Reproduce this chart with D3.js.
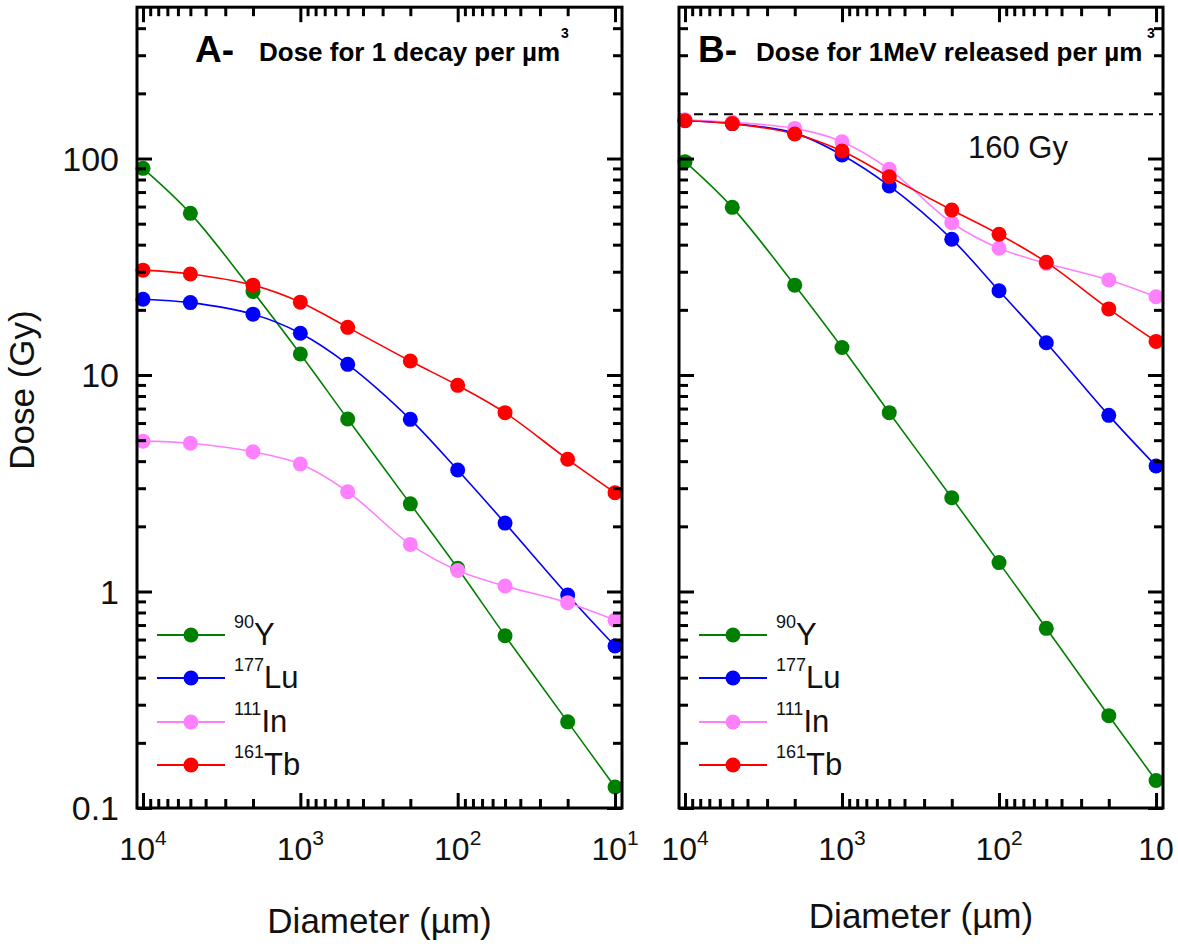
<!DOCTYPE html>
<html>
<head>
<meta charset="utf-8">
<script src="https://cdn.jsdelivr.net/npm/d3@7"></script>
<style>
  html, body { margin: 0; padding: 0; background: #fff; }
  svg { display: block; font-family: "Liberation Sans", Arial, sans-serif; }
</style>
</head>
<body>
<svg id="chart" width="1178" height="948"></svg>
<script>
// ---------------- DATA ----------------
const diameters = [10000, 5000, 2000, 1000, 500, 200, 100, 50, 20, 10];

const seriesNames = ["90Y", "177Lu", "111In", "161Tb"];
const massNumbers = ["90", "177", "111", "161"];
const elements = ["Y", "Lu", "In", "Tb"];
const seriesColors = ["#008000", "#0000ff", "#ff80ff", "#ff0000"];

// Panel A: dose for 1 decay per µm³ (Gy)
const doseA_Y90   = [90.1, 55.8, 24.3, 12.5, 6.26, 2.54, 1.28, 0.625, 0.25, 0.125];
const doseA_Lu177 = [22.4, 21.6, 19.1, 15.6, 11.2, 6.24, 3.64, 2.07, 0.964, 0.56];
const doseA_In111 = [4.95, 4.84, 4.42, 3.88, 2.89, 1.65, 1.25, 1.06, 0.888, 0.738];
const doseA_Tb161 = [30.5, 29.3, 26.0, 21.7, 16.6, 11.6, 8.96, 6.7, 4.08, 2.86];

// Panel B: dose for 1 MeV released per µm³ (Gy)
const doseB_Y90   = [96.7, 59.5, 26.0, 13.4, 6.7, 2.71, 1.36, 0.676, 0.267, 0.134];
const doseB_Lu177 = [150, 145, 131, 103.8, 74.7, 42.4, 24.5, 14.1, 6.51, 3.8];
const doseB_In111 = [151, 147, 137.8, 119.6, 89.1, 50.5, 38.5, 32.8, 27.5, 23.0];
const doseB_Tb161 = [149.5, 145, 129.7, 108.3, 82.4, 57.8, 44.7, 33.2, 20.2, 14.3];

const referenceDose = 160;   // dashed line in panel B
const referenceLabel = "160 Gy";

const yMajorTicks = [0.1, 1, 10, 100];
const yTickLabels = ["0.1", "1", "10", "100"];
const xMajorTicks = [10000, 1000, 100, 10];
const xTickBaseA = ["10", "10", "10", "10"];
const xTickExpA  = ["4", "3", "2", "1"];
const xTickBaseB = ["10", "10", "10", "10"];
const xTickExpB  = ["4", "3", "2", ""];

const yDomain = [0.1, 500];
const xDomain = [10918, 9.03];

// ---------------- LAYOUT ----------------
const svg = d3.select("#chart");
const plotTop = 7.2, plotBottom = 808;
const y = d3.scaleLog().domain(yDomain).range([plotBottom, plotTop]);

function minorTicks(domainMin, domainMax) {
  const out = [];
  for (let d = 0.01; d <= 1e5; d *= 10) {
    for (let k = 2; k <= 9; k++) {
      const v = +(k * d).toPrecision(6);
      if (v > domainMin && v < domainMax) out.push(v);
    }
  }
  return out;
}
const yMinor = minorTicks(yDomain[0], yDomain[1]);
const xMinor = minorTicks(xDomain[1], xDomain[0]);

const panels = [
  {
    left: 137, right: 622,
    data: [doseA_Y90, doseA_Lu177, doseA_In111, doseA_Tb161],
    letter: "A-", letterX: 195, subtitle: "Dose for 1 decay per µm", subX: 259, supX: 561,
    xBase: xTickBaseA, xExp: xTickExpA, yLabels: true, titleY: 933, refLine: false
  },
  {
    left: 679, right: 1163,
    data: [doseB_Y90, doseB_Lu177, doseB_In111, doseB_Tb161],
    letter: "B-", letterX: 698, subtitle: "Dose for 1MeV released per µm", subX: 756, supX: 1147,
    xBase: xTickBaseB, xExp: xTickExpB, yLabels: false, titleY: 928, refLine: true
  }
];

const MAJOR = 15, MINOR = 9;

panels.forEach(p => {
  const x = d3.scaleLog().domain(xDomain).range([p.left, p.right]);
  const g = svg.append("g");

  // reference dashed line
  if (p.refLine) {
    g.append("line")
      .attr("x1", p.left).attr("x2", p.right)
      .attr("y1", y(referenceDose)).attr("y2", y(referenceDose))
      .attr("stroke", "#000").attr("stroke-width", 2)
      .attr("stroke-dasharray", "9,6");
    g.append("text")
      .attr("x", 968).attr("y", 158)
      .attr("font-size", 31).attr("fill", "#111")
      .text(referenceLabel);
  }

  // series
  const line = d3.line()
    .x((d, i) => x(diameters[i]))
    .y(d => y(d))
    .curve(d3.curveCatmullRom.alpha(0.5));

  p.data.forEach((vals, si) => {
    const sg = g.append("g");
    sg.append("path")
      .datum(vals)
      .attr("d", line)
      .attr("fill", "none")
      .attr("stroke", seriesColors[si])
      .attr("stroke-width", 1.6);
    sg.selectAll("circle")
      .data(vals)
      .join("circle")
      .attr("cx", (d, i) => x(diameters[i]))
      .attr("cy", d => y(d))
      .attr("r", 7.5)
      .attr("fill", seriesColors[si]);
  });

  // axes ticks (inward) on all four sides
  const axG = g.append("g");
  const mk = (axisFn, scale, vals, size, tx, ty) => {
    const a = axG.append("g")
      .attr("transform", `translate(${tx},${ty})`)
      .call(axisFn(scale).tickValues(vals).tickSize(size).tickFormat(""));
    a.select(".domain").remove();
    a.selectAll(".tick line").attr("stroke", "#000").attr("stroke-width", 3);
  };
  mk(d3.axisLeft, y, yMajorTicks, -MAJOR, p.left, 0);
  mk(d3.axisLeft, y, yMinor, -MINOR, p.left, 0);
  mk(d3.axisRight, y, yMajorTicks, -MAJOR, p.right, 0);
  mk(d3.axisRight, y, yMinor, -MINOR, p.right, 0);
  mk(d3.axisBottom, x, xMajorTicks, -MAJOR, 0, plotBottom);
  mk(d3.axisBottom, x, xMinor, -MINOR, 0, plotBottom);
  mk(d3.axisTop, x, xMajorTicks, -MAJOR, 0, plotTop);
  mk(d3.axisTop, x, xMinor, -MINOR, 0, plotTop);

  // frame
  g.append("rect")
    .attr("x", p.left).attr("y", plotTop)
    .attr("width", p.right - p.left).attr("height", plotBottom - plotTop)
    .attr("fill", "none").attr("stroke", "#000").attr("stroke-width", 3);

  // y tick labels
  if (p.yLabels) {
    yMajorTicks.forEach((v, i) => {
      g.append("text")
        .attr("x", 119).attr("y", y(v) + 12)
        .attr("text-anchor", "end")
        .attr("font-size", 34).attr("fill", "#111")
        .text(yTickLabels[i]);
    });
  }

  // x tick labels with superscript exponents
  xMajorTicks.forEach((v, i) => {
    const t = g.append("text")
      .attr("x", x(v)).attr("y", 860)
      .attr("text-anchor", "middle")
      .attr("font-size", 32).attr("fill", "#111");
    t.append("tspan").text(p.xBase[i]);
    if (p.xExp[i]) {
      t.append("tspan").attr("font-size", 21).attr("dy", -15).text(p.xExp[i]);
    }
  });

  // x axis title
  g.append("text")
    .attr("x", (p.left + p.right) / 2).attr("y", p.titleY)
    .attr("text-anchor", "middle")
    .attr("font-size", 35).attr("fill", "#111")
    .text("Diameter (µm)");

  // panel titles
  g.append("text")
    .attr("x", p.letterX).attr("y", 62)
    .attr("font-size", 37).attr("font-weight", "bold")
    .text(p.letter);
  g.append("text")
    .attr("x", p.subX).attr("y", 61)
    .attr("font-size", 26).attr("font-weight", "bold")
    .text(p.subtitle);
  g.append("text")
    .attr("x", p.supX).attr("y", 38)
    .attr("font-size", 14).attr("font-weight", "bold")
    .text("3");

  // legend
  const rowY = [635, 678, 722, 765];
  seriesNames.forEach((n, si) => {
    const ly = rowY[si];
    g.append("line")
      .attr("x1", p.left + 20).attr("x2", p.left + 88)
      .attr("y1", ly).attr("y2", ly)
      .attr("stroke", seriesColors[si]).attr("stroke-width", 2);
    g.append("circle")
      .attr("cx", p.left + 54).attr("cy", ly).attr("r", 7.5)
      .attr("fill", seriesColors[si]);
    const t = g.append("text")
      .attr("x", p.left + 97).attr("y", ly + 10)
      .attr("fill", "#111");
    t.append("tspan").attr("font-size", 18).attr("dy", -17).text(massNumbers[si]);
    t.append("tspan").attr("font-size", 31).attr("dy", 17).text(elements[si]);
  });
});

// y axis title
svg.append("text")
  .attr("transform", "translate(34,390) rotate(-90)")
  .attr("text-anchor", "middle")
  .attr("font-size", 35).attr("fill", "#111")
  .text("Dose (Gy)");
</script>
</body>
</html>
